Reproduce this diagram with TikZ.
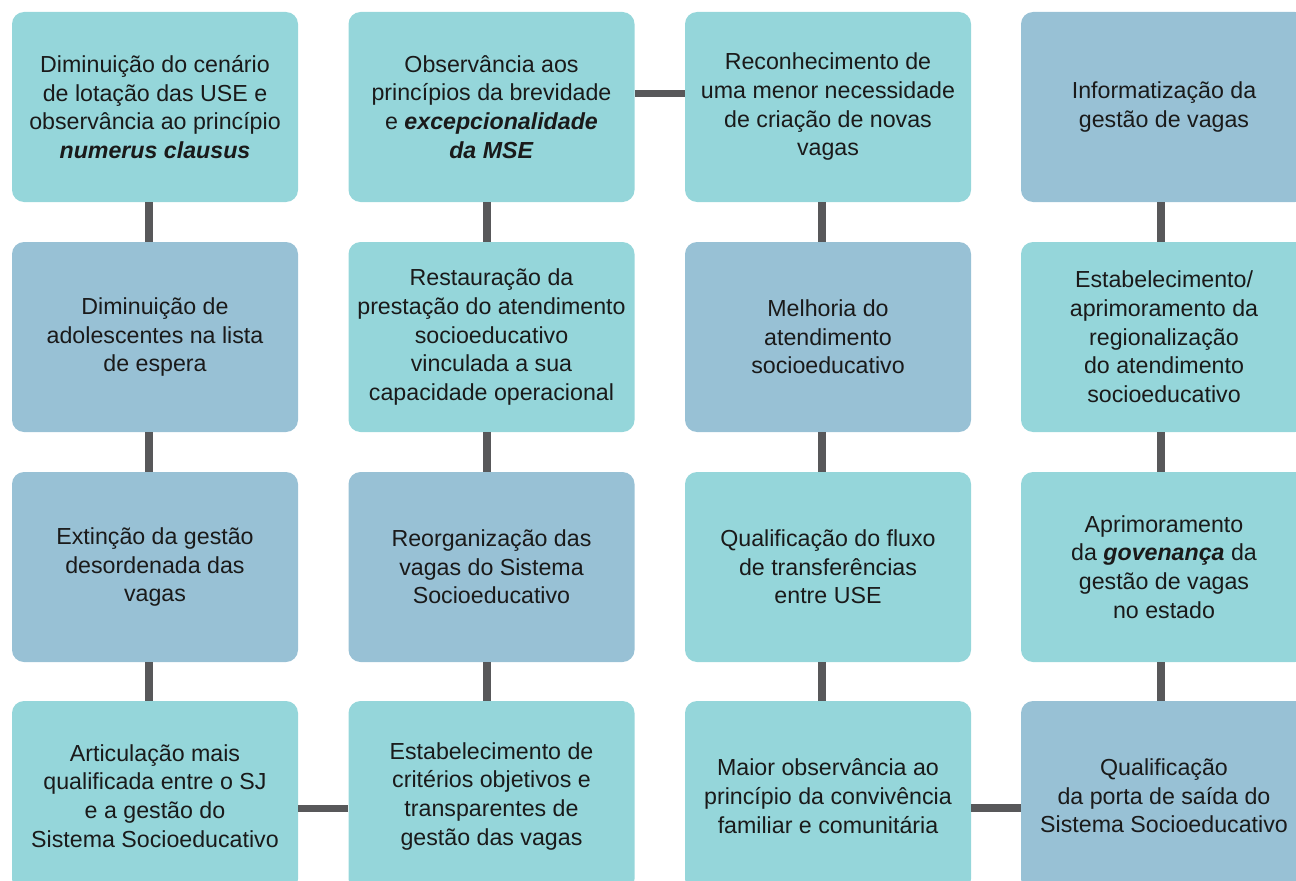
\documentclass[tikz,border=0pt]{standalone}
\usepackage{fontspec}
\setmainfont{Liberation Sans}
\usepackage{tikz}

\definecolor{tealbox}{HTML}{95D6DA}
\definecolor{bluebox}{HTML}{98C1D5}
\definecolor{linkgray}{HTML}{58585A}
\definecolor{inktext}{HTML}{1A1A1A}

\newcommand{\bi}[1]{\textbf{\textit{#1}}}

\begin{document}
\begin{tikzpicture}[
		x=0.75pt, y=-0.75pt,
		font=\fontsize{17.4}{21.5}\selectfont,
		box/.style={rounded corners=9pt, minimum width=214.5pt, minimum height=142.5pt,
			inner sep=0pt, align=center, text=inktext},
		lbox/.style={box, fill=tealbox},
		dbox/.style={box, fill=bluebox},
		link/.style={draw=linkgray, line width=5.4pt}
		]
		\useasboundingbox (0,0) rectangle (1296,881);
		
		% row 1
		\node[lbox] (r1c1) at (155,107) {Diminuição do cenário\\ de lotação das USE e\\ observância ao princípio\\ \bi{numerus clausus}};
		\node[lbox] (r1c2) at (491.5,107) {Observância aos\\ princípios da brevidade\\ e \bi{excepcionalidade}\\ \bi{da MSE}};
		\node[lbox] (r1c3) at (828,107) {Reconhecimento de\\ uma menor necessidade\\ de criação de novas\\ vagas};
		\node[dbox] (r1c4) at (1164,107) {Informatização da\\ gestão de vagas};
		
		% row 2
		\node[dbox] (r2c1) at (155,337) {Diminuição de\\ adolescentes na lista\\ de espera};
		\node[lbox] (r2c2) at (491.5,337) {Restauração da\\ prestação do atendimento\\ socioeducativo\\ vinculada a sua\\ capacidade operacional};
		\node[dbox] (r2c3) at (828,337) {Melhoria do\\ atendimento\\ socioeducativo};
		\node[lbox] (r2c4) at (1164,337) {Estabelecimento/\\ aprimoramento da\\ regionalização\\ do atendimento\\ socioeducativo};
		
		% row 3
		\node[dbox] (r3c1) at (155,567) {Extinção da gestão\\ desordenada das\\ vagas};
		\node[dbox] (r3c2) at (491.5,567) {Reorganização das\\ vagas do Sistema\\ Socioeducativo};
		\node[lbox] (r3c3) at (828,567) {Qualificação do fluxo\\ de transferências\\ entre USE};
		\node[lbox] (r3c4) at (1164,567) {Aprimoramento\\ da \bi{govenança} da\\ gestão de vagas\\ no estado};
		
		% row 4
		\node[lbox] (r4c1) at (155,796) {Articulação mais\\ qualificada entre o SJ\\ e a gestão do\\ Sistema Socioeducativo};
		\node[lbox] (r4c2) at (491.5,796) {Estabelecimento de\\ critérios objetivos e\\ transparentes de\\ gestão das vagas};
		\node[lbox] (r4c3) at (828,796) {Maior observância ao\\ princípio da convivência\\ familiar e comunitária};
		\node[dbox] (r4c4) at (1164,796) {Qualificação\\ da porta de saída do\\ Sistema Socioeducativo};
		
		% vertical links
		\foreach \c/\s in {1/-4.5pt, 2/-3.4pt, 3/-4.5pt, 4/-2.3pt}{
			\draw[link] ([xshift=\s]r1c\c.south) -- ([xshift=\s]r2c\c.north);
			\draw[link] ([xshift=\s]r2c\c.south) -- ([xshift=\s]r3c\c.north);
			\draw[link] ([xshift=\s]r3c\c.south) -- ([xshift=\s]r4c\c.north);
		}
		
		% horizontal links
		\draw[link] ([yshift=10pt]r1c2.east) -- ([yshift=10pt]r1c3.west);
		\draw[link] ([yshift=-9.5pt]r4c1.east) -- ([yshift=-9.5pt]r4c2.west);
		\draw[link] ([yshift=-9pt]r4c3.east) -- ([yshift=-9pt]r4c4.west);
		
	\end{tikzpicture}
\end{document}
